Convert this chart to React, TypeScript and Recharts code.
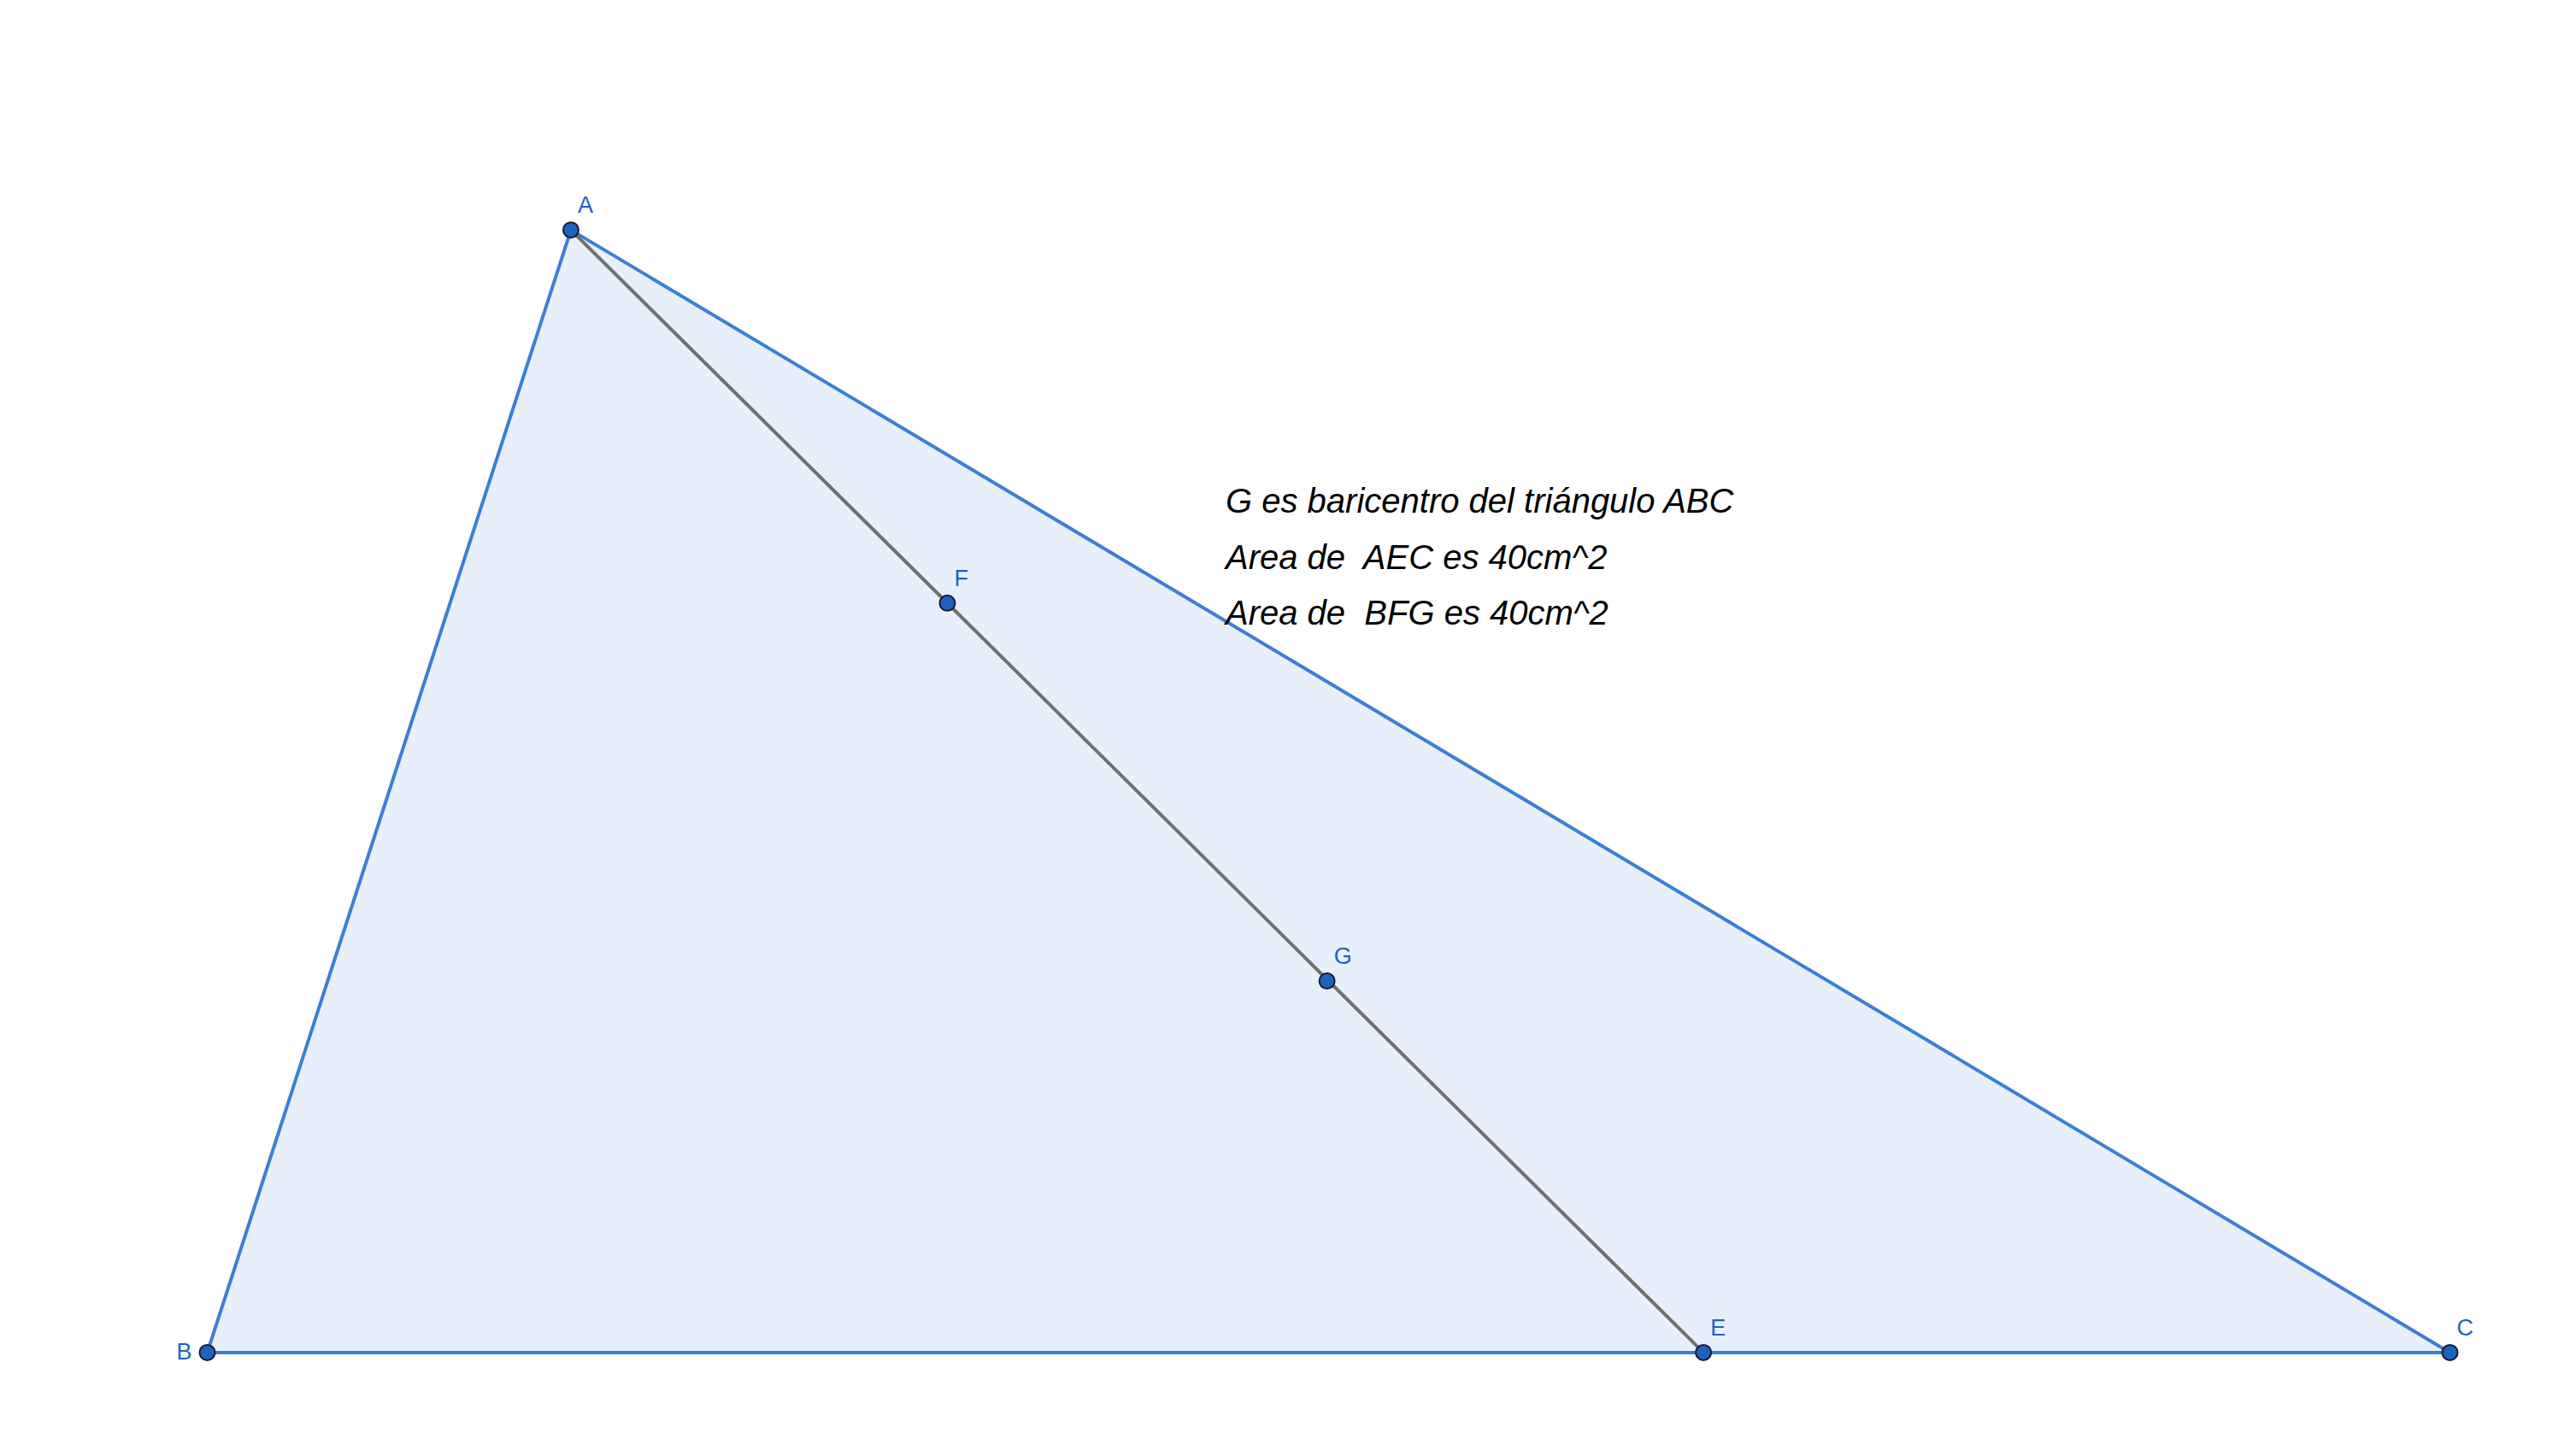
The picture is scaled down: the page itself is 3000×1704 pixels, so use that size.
import React from "react";
import { ScatterChart, Scatter, XAxis, YAxis, LabelList, ReferenceArea } from "recharts";

// points in construction units (B at origin)
const pointNames = ["A", "B", "C", "E", "F", "G"];
const pointX = [2.27, 0, 14, 9.34, 4.62, 6.99];
const pointY = [7.01, 0, 0, 0, 4.68, 2.32];
const notes = [
  "G es baricentro del triángulo ABC",
  "Area de  AEC es 40cm^2",
  "Area de  BFG es 40cm^2",
];

const pt = (n: string) => {
  const i = pointNames.indexOf(n);
  return { name: n, x: pointX[i], y: pointY[i] };
};
const triangle = ["B", "C", "A", "B"].map(pt);
const median = ["A", "E"].map(pt);
const points = pointNames.map(pt);

const x1 = Math.min(...pointX);
const x2 = Math.max(...pointX);
const y1 = Math.min(...pointY);
const y2 = Math.max(...pointY);

const labelOffset: Record<string, [number, number]> = {
  A: [8, -20], B: [-36, 8], C: [8, -20], E: [8, -20], F: [8, -20], G: [8, -20],
};

// fill of the triangle, mapped inside the reference area's pixel box
const triangleFill = (p: any) => {
  const pts = triangle
    .map((q) => {
      const px = p.x + ((q.x - x1) / (x2 - x1)) * p.width;
      const py = p.y + ((y2 - q.y) / (y2 - y1)) * p.height;
      return `${px},${py}`;
    })
    .join(" ");
  return <polygon points={pts} fill="#e7f0fa" stroke="none" />;
};

export default function App() {
  return (
    <div style={{ position: "absolute", left: 0, top: 0, width: 3000, height: 1704, background: "#fff" }}>
      <ScatterChart width={3000} height={1704} margin={{ top: 0, right: 0, bottom: 0, left: 0 }}>
        <XAxis type="number" dataKey="x" domain={[-1.294, 14.712]} hide allowDataOverflow />
        <YAxis type="number" dataKey="y" domain={[-0.646, 8.446]} hide allowDataOverflow />
        <ReferenceArea x1={x1} x2={x2} y1={y1} y2={y2} shape={triangleFill} />
        <Scatter data={triangle} line={{ stroke: "#3d7fd1", strokeWidth: 4 }} shape={() => null} isAnimationActive={false} />
        <Scatter data={median} line={{ stroke: "#707070", strokeWidth: 4 }} shape={() => null} isAnimationActive={false} />
        <Scatter
          data={points}
          isAnimationActive={false}
          shape={(p: any) => <circle cx={p.cx} cy={p.cy} r={9} fill="#1e62c0" stroke="#1a1a2e" strokeWidth={2} />}
        >
          <LabelList
            dataKey="name"
            content={(p: any) => {
              const [dx, dy] = labelOffset[p.value] || [8, -20];
              return (
                <text x={p.x + p.width / 2 + dx} y={p.y + p.height / 2 + dy} fill="#1e62c0" fontSize={27} fontFamily="Liberation Sans, Arial, sans-serif">
                  {p.value}
                </text>
              );
            }}
          />
        </Scatter>
      </ScatterChart>
      <div style={{ position: "absolute", left: 1434, top: 554, fontFamily: "Liberation Sans, Arial, sans-serif", fontStyle: "italic", fontSize: 40, lineHeight: "65.5px", color: "#000" }}>
        {notes.map((n) => (
          <div key={n} style={{ whiteSpace: "pre" }}>{n}</div>
        ))}
      </div>
    </div>
  );
}
